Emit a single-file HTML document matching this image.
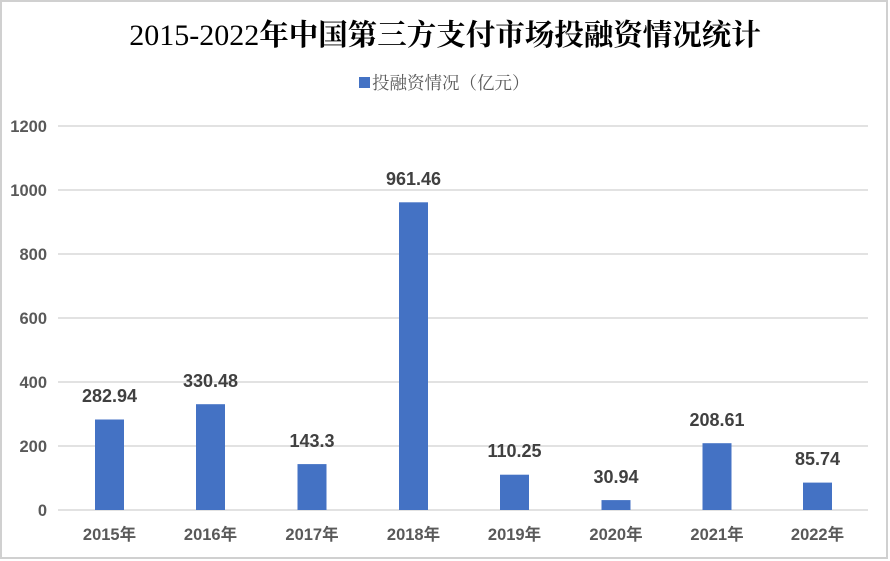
<!DOCTYPE html>
<html>
<head>
<meta charset="utf-8">
<style>
  html,body{margin:0;padding:0;background:#fff;}
  body{width:890px;height:561px;overflow:hidden;}
  svg{display:block;}
</style>
</head>
<body>
<svg width="890" height="561" viewBox="0 0 890 561" xmlns="http://www.w3.org/2000/svg">
  <rect x="0" y="0" width="890" height="561" fill="#ffffff"/>
  <rect x="1" y="1" width="886" height="557" fill="none" stroke="#d0d0d0" stroke-width="2"/>

  <!-- Title -->
  <text x="445" y="45" text-anchor="middle" fill="#000000"><tspan font-family="'Liberation Serif', serif" font-size="30">2015-2022</tspan><tspan font-family="'Noto Serif CJK SC','Noto Sans CJK SC',serif" font-weight="700" font-size="29.5">年中国第三方支付市场投融资情况统计</tspan></text>

  <!-- Legend -->
  <rect x="359" y="77" width="11" height="11" fill="#4472C4"/>
  <text x="372" y="89" font-family="'Noto Serif CJK SC','Noto Sans CJK SC',serif" font-size="17.5" fill="#595959">投融资情况（亿元）</text>

  <!-- Gridlines -->
  <g stroke="#d9d9d9" stroke-width="1.5">
    <line x1="58" y1="126" x2="868" y2="126"/>
    <line x1="58" y1="190" x2="868" y2="190"/>
    <line x1="58" y1="254" x2="868" y2="254"/>
    <line x1="58" y1="318" x2="868" y2="318"/>
    <line x1="58" y1="382" x2="868" y2="382"/>
    <line x1="58" y1="446" x2="868" y2="446"/>
    <line x1="58" y1="510" x2="868" y2="510"/>
  </g>

  <!-- Y axis labels -->
  <g font-family="'Liberation Sans', sans-serif" font-weight="700" font-size="16.5" fill="#595959" text-anchor="end">
    <text x="47" y="132">1200</text>
    <text x="47" y="196">1000</text>
    <text x="47" y="260">800</text>
    <text x="47" y="324">600</text>
    <text x="47" y="388">400</text>
    <text x="47" y="452">200</text>
    <text x="47" y="516">0</text>
  </g>

  <!-- Bars -->
  <g fill="#4472C4">
    <rect x="95" y="419.5" width="29" height="90.5"/>
    <rect x="196" y="404.2" width="29" height="105.8"/>
    <rect x="297.5" y="464.1" width="29" height="45.9"/>
    <rect x="399" y="202.3" width="29" height="307.7"/>
    <rect x="500" y="474.7" width="29" height="35.3"/>
    <rect x="601.5" y="500.1" width="29" height="9.9"/>
    <rect x="702.5" y="443.2" width="29" height="66.8"/>
    <rect x="803" y="482.6" width="29" height="27.4"/>
  </g>

  <!-- Data labels -->
  <g font-family="'Liberation Sans', sans-serif" font-weight="700" font-size="18" fill="#404040" text-anchor="middle">
    <text x="109.5" y="402">282.94</text>
    <text x="210.5" y="387">330.48</text>
    <text x="312" y="447">143.3</text>
    <text x="413.5" y="185">961.46</text>
    <text x="514.5" y="457">110.25</text>
    <text x="616" y="483">30.94</text>
    <text x="717" y="426">208.61</text>
    <text x="817.5" y="465">85.74</text>
  </g>

  <!-- Category labels -->
  <g font-family="'Liberation Sans','Noto Sans CJK SC', sans-serif" font-weight="700" font-size="16.5" fill="#595959" text-anchor="middle">
    <text x="109.5" y="540">2015年</text>
    <text x="210.5" y="540">2016年</text>
    <text x="312" y="540">2017年</text>
    <text x="413.5" y="540">2018年</text>
    <text x="514.5" y="540">2019年</text>
    <text x="616" y="540">2020年</text>
    <text x="717" y="540">2021年</text>
    <text x="817.5" y="540">2022年</text>
  </g>
</svg>
</body>
</html>
